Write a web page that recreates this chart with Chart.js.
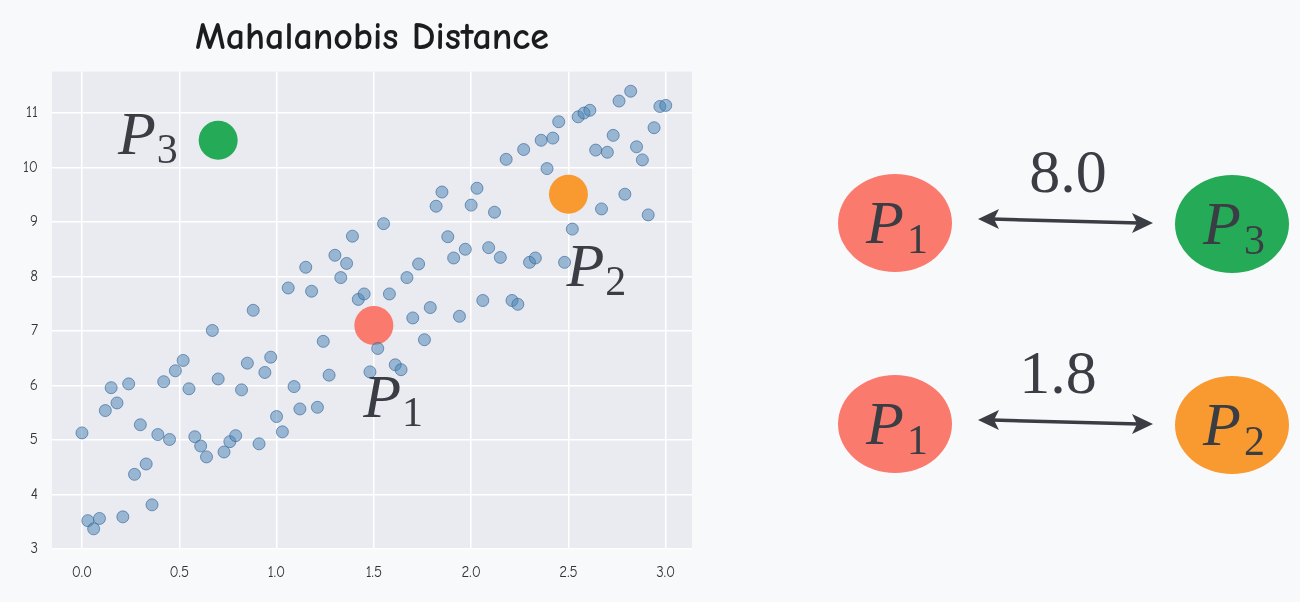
<!DOCTYPE html>
<html>
<head>
<meta charset="utf-8">
<script src="https://cdn.jsdelivr.net/npm/chart.js@4.4.1/dist/chart.umd.min.js"></script>
<style>
  html, body { margin: 0; padding: 0; background: #f8f9fb; }
  #wrap { position: relative; width: 1300px; height: 602px; overflow: hidden; }
  #chartBox { position: absolute; left: 0; top: 0; width: 700px; height: 602px; }
  #diagram { position: absolute; left: 0; top: 0; pointer-events: none; }
  .pm { font-family: "Liberation Serif", "DejaVu Serif", serif; font-style: italic; fill: #3a3d44; }
  .num { font-family: "Liberation Serif", "DejaVu Serif", serif; fill: #3a3d44; }
</style>
</head>
<body>
<div id="wrap">
  <div id="chartBox"><canvas id="mahaChart" width="700" height="602"></canvas></div>
  <svg id="diagram" width="1300" height="602" viewBox="0 0 1300 602"></svg>
</div>
<script>
// sample points (x evenly spread, y)
const xVals = [0.00,0.03,0.06,0.09,0.12,0.15,0.18,0.21,0.24,0.27,0.30,0.33,0.36,0.39,0.42,0.45,0.48,
  0.52,0.55,0.58,0.61,0.64,0.67,0.70,0.73,0.76,0.79,0.82,0.85,0.88,0.91,0.94,0.97,
  1.00,1.03,1.06,1.09,1.12,1.15,1.18,1.21,1.24,1.27,1.30,1.33,1.36,1.39,1.42,1.45,1.48,
  1.52,1.55,1.58,1.61,1.64,1.67,1.70,1.73,1.76,1.79,1.82,1.85,1.88,1.91,1.94,1.97,
  2.00,2.03,2.06,2.09,2.12,2.15,2.18,2.21,2.24,2.27,2.30,2.33,2.36,2.39,2.42,2.45,2.48,
  2.52,2.55,2.58,2.61,2.64,2.67,2.70,2.73,2.76,2.79,2.82,2.85,2.88,2.91,2.94,2.97,3.00];
const yVals = [5.13,3.52,3.37,3.56,5.54,5.96,5.68,3.59,6.03,4.37,
  5.28,4.56,3.81,5.10,6.07,5.01,6.27,6.46,5.94,5.06,
  4.89,4.69,7.01,6.12,4.78,4.97,5.08,5.92,6.41,7.38,
  4.93,6.24,6.52,5.43,5.15,7.79,5.98,5.57,8.17,7.73,
  5.60,6.81,6.19,8.39,7.98,8.24,8.74,7.58,7.68,6.25,
  6.68,8.97,7.68,6.38,6.29,7.98,7.24,8.23,6.84,7.43,
  9.29,9.55,8.73,8.34,7.27,8.50,9.31,9.62,7.56,8.53,
  9.18,8.35,10.15,7.56,7.49,10.33,8.26,8.34,10.50,9.98,
  10.54,10.84,8.26,8.87,10.93,11.00,11.05,10.32,9.24,10.28,
  10.59,11.22,9.51,11.40,10.38,10.14,9.13,10.73,11.12,11.14];

// highlighted points
const pointNames = ['1', '2', '3'];
const pointX = [1.50, 2.50, 0.70];
const pointY = [7.10, 9.51, 10.50];
const pointColors = ['#fa7b6e', '#f89a30', '#25aa58'];

// label anchors (data units) for P1, P2, P3
const labelX = [1.445, 2.49, 0.185];
const labelY = [5.43, 7.83, 10.24];

const xTicks = [0.0, 0.5, 1.0, 1.5, 2.0, 2.5, 3.0];
const yTicks = [3, 4, 5, 6, 7, 8, 9, 10, 11];

// distances shown on the right
const distPairs = [['1', '3'], ['1', '2']];
const distValues = [8.0, 1.8];

const cloud = xVals.map((x, i) => ({ x: x, y: yVals[i] }));

const plotBg = {
  id: 'plotBg',
  beforeDraw(chart) {
    const { ctx, chartArea: a } = chart;
    ctx.save();
    ctx.fillStyle = '#eaeaf1';
    ctx.fillRect(a.left, a.top, a.right - a.left, a.bottom - a.top);
    ctx.restore();
  }
};

const pLabels = {
  id: 'pLabels',
  afterDatasetsDraw(chart) {
    const ctx = chart.ctx;
    const sx = chart.scales.x, sy = chart.scales.y;
    ctx.save();
    ctx.fillStyle = '#3a3d44';
    ctx.textBaseline = 'alphabetic';
    ctx.textAlign = 'left';
    pointNames.forEach((n, i) => {
      const px = sx.getPixelForValue(labelX[i]);
      const py = sy.getPixelForValue(labelY[i]);
      ctx.font = 'italic 62px "Liberation Serif", serif';
      ctx.fillText('P', px, py);
      const w = ctx.measureText('P').width;
      ctx.font = '42px "Liberation Serif", serif';
      ctx.fillText(n, px + w + 1, py + 9);
    });
    ctx.restore();
  }
};

const tickFont = { family: '"Comic Sans MS", "Comic Neue", "Lato", sans-serif', size: 15 };

new Chart(document.getElementById('mahaChart'), {
  type: 'scatter',
  data: {
    datasets: [
      {
        data: cloud,
        backgroundColor: 'rgba(70,130,180,0.5)',
        borderColor: 'rgba(55,105,155,0.65)',
        borderWidth: 1,
        pointRadius: 6
      }
    ].concat(pointNames.map((n, i) => ({
      data: [{ x: pointX[i], y: pointY[i] }],
      backgroundColor: pointColors[i],
      borderWidth: 0,
      pointRadius: 19.5
    })))
  },
  options: {
    responsive: false,
    animation: false,
    layout: { autoPadding: false, padding: { left: 0, right: 8, top: 0, bottom: 0 } },
    plugins: {
      legend: { display: false },
      tooltip: { enabled: false },
      title: {
        display: true,
        fullSize: false,
        text: 'Mahalanobis Distance',
        color: '#1c1c1c',
        font: { family: '"Comic Sans MS", "Comic Neue", "Lato", sans-serif', size: 38, weight: 'bold' },
        padding: { top: 15, bottom: 11 }
      }
    },
    scales: {
      x: {
        type: 'linear',
        min: -0.154,
        max: 3.135,
        afterBuildTicks: s => { s.ticks = xTicks.map(v => ({ value: v })); },
        afterFit: s => { s.height = 53; },
        grid: { color: '#ffffff', lineWidth: 1.5, drawTicks: false },
        border: { display: false },
        ticks: { color: '#333', font: tickFont, padding: 15, callback: v => v.toFixed(1) }
      },
      y: {
        type: 'linear',
        min: 3.0,
        max: 11.76,
        afterBuildTicks: s => { s.ticks = yTicks.map(v => ({ value: v })); },
        afterFit: s => { s.width = 52; },
        grid: { color: '#ffffff', lineWidth: 1.5, drawTicks: false },
        border: { display: false },
        ticks: { color: '#333', font: tickFont, padding: 14, callback: v => String(v) }
      }
    }
  },
  plugins: [plotBg, pLabels]
});

// right side diagram: pairs and their distances
const svg = document.getElementById('diagram');
const NS = 'http://www.w3.org/2000/svg';
const colorOf = {};
pointNames.forEach((n, i) => { colorOf[n] = pointColors[i]; });

function el(tag, attrs, text) {
  const e = document.createElementNS(NS, tag);
  for (const k in attrs) e.setAttribute(k, attrs[k]);
  if (text !== undefined) e.textContent = text;
  svg.appendChild(e);
  return e;
}

function bubble(cx, cy, name) {
  el('ellipse', { cx: cx, cy: cy, rx: 57, ry: 49, fill: colorOf[name] });
  el('text', { x: cx - 29, y: cy + 20, class: 'pm', 'font-size': 62 }, 'P');
  el('text', { x: cx + 12, y: cy + 30, class: 'num', 'font-size': 42 }, name);
}

function arrow(x1, y1, x2, y2) {
  const c = '#3a3d44';
  el('line', { x1: x1 + 14, y1: y1, x2: x2 - 14, y2: y2, stroke: c, 'stroke-width': 3.5 });
  el('polygon', { points: `${x1},${y1} ${x1 + 21},${y1 - 10} ${x1 + 16},${y1} ${x1 + 21},${y1 + 10}`, fill: c });
  el('polygon', { points: `${x2},${y2} ${x2 - 21},${y2 - 10} ${x2 - 16},${y2} ${x2 - 21},${y2 + 10}`, fill: c });
}

const rowY = [223, 424];
distPairs.forEach((pair, r) => {
  const cy = rowY[r];
  bubble(895, cy, pair[0]);
  bubble(1232, cy + 1, pair[1]);
  arrow(978, cy - 4, 1153, cy);
  el('text', { x: r === 0 ? 1068 : 1058, y: cy - 31, class: 'num', 'font-size': 62, 'text-anchor': 'middle' }, distValues[r].toFixed(1));
});
</script>
</body>
</html>
